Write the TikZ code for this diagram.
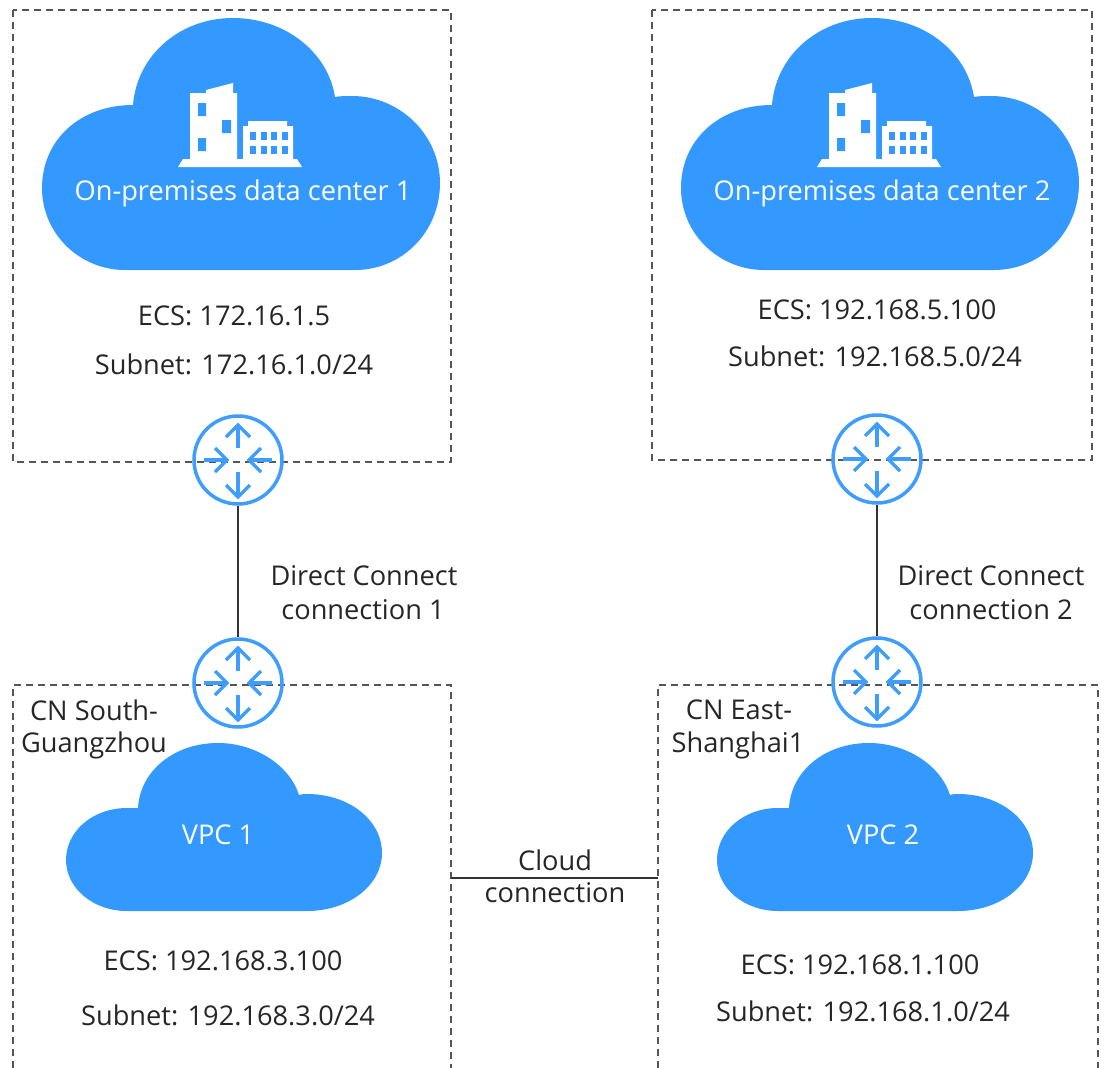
\documentclass[tikz,border=0pt]{standalone}
\usepackage{fontspec}
\setmainfont{Open Sans}
\definecolor{cloudblue}{HTML}{3399FF}
\definecolor{lineblue}{HTML}{3F9DFF}
\definecolor{dashgray}{HTML}{555555}
\newcommand{\lbl}{\fontsize{27.2}{30}\selectfont}
\tikzset{
	boxline/.style={draw=dashgray,line width=1.1pt,dash pattern=on 7pt off 5pt},
	link/.style={draw=black!80,line width=1.5pt},
	router/.style={shape=circle,draw=lineblue,line width=3.5pt,minimum size=88pt,inner sep=0pt},
	rarrow/.style={draw=lineblue,line width=3.5pt},
	txt/.style={text=black!85,font=\lbl,inner sep=0pt},
	wtxt/.style={text=white,font=\lbl,inner sep=0pt},
	bigcloud/.pic={
		\fill[cloudblue] (125,270) -- (355,270) .. controls (402,270) and (440,232) .. (440,183)
			.. controls (440,135) and (400,96) .. (352,96) .. controls (346,96) and (340,96) .. (335,97)
			.. controls (328,52) and (285,18) .. (233,18) .. controls (180,18) and (137,55) .. (133,105)
			.. controls (80,105) and (42,140) .. (42,188) .. controls (42,234) and (80,270) .. (125,270) -- cycle;
		% building
		\fill[white] (178,167) -- (183,159) -- (190,159) -- (190,93) -- (206,93) -- (206,90) -- (233,83) -- (233,93) -- (237,93)
			-- (237,159) -- (243,159) -- (243,126) -- (248,126) -- (248,121) -- (287,121) -- (287,126) -- (293,126)
			-- (293,159) -- (297,159) -- (302,167) -- cycle;
		\fill[cloudblue] (198,103) rectangle (206,116) (222,120) rectangle (231,133) (198,138) rectangle (206,151);
		\foreach \x in {250,261,271,282}
			\foreach \y in {132,146}
				\fill[cloudblue] (\x,\y) rectangle ++(6,8);
	},
	smallcloud/.pic={
		\fill[cloudblue] (127,911) -- (307,911) .. controls (349,911) and (382,885) .. (382,853)
			.. controls (382,820) and (349,794) .. (307,794) .. controls (304,794) and (302,794) .. (299,795)
			.. controls (290,766) and (256,743) .. (218,743) .. controls (174,743) and (140,771) .. (138,808)
			.. controls (133,808) and (130,808) .. (127,808) .. controls (93,808) and (66,831) .. (66,860)
			.. controls (66,888) and (93,911) .. (127,911) -- cycle;
	},
	routerarrows/.pic={
		\draw[rarrow] (0,-12) -- (0,-34);
		\draw[rarrow] (-12,-23) -- (0,-35) -- (12,-23);
		\draw[rarrow] (0,12) -- (0,36);
		\draw[rarrow] (-12,25) -- (0,37) -- (12,25);
		\draw[rarrow] (-34,0) -- (-11,0);
		\draw[rarrow] (-23,-12) -- (-11,0) -- (-23,12);
		\draw[rarrow] (34,0) -- (11,0);
		\draw[rarrow] (23,-12) -- (11,0) -- (23,12);
	}
}
\begin{document}
\begin{tikzpicture}[x=1pt,y=-1pt]
	\useasboundingbox (0,0) rectangle (1104,1068);

	% dashed areas
	\draw[boxline] (13,10) rectangle (451,462);
	\draw[boxline] (652,10) rectangle (1092,460);
	\draw[boxline] (13,1068) -- (13,685) -- (451,685) -- (451,1068);
	\draw[boxline] (658,1068) -- (658,685) -- (1098,685) -- (1098,1068);

	% clouds
	\pic at (0,0) {bigcloud};
	\pic at (639,0) {bigcloud};
	\pic at (0,0) {smallcloud};
	\pic at (651,0) {smallcloud};

	% routers
	\node[router] (dc1) at (238,460) {};
	\node[router] (dc2) at (877,459) {};
	\node[router] (vpc1) at (238,683) {};
	\node[router] (vpc2) at (877,682) {};
	\foreach \n in {dc1,dc2,vpc1,vpc2}
		\pic at (\n) {routerarrows};

	% connectors
	\coordinate (cc1) at (451,878);
	\coordinate (cc2) at (658,878);
	\path[link] (dc1) edge (vpc1);
	\path[link] (dc2) edge (vpc2);
	\path[link] (cc1) edge (cc2);

	% labels
	\node[wtxt] (dc1name) at (243,193) {On-premises data center 1};
	\node[wtxt] (dc2name) at (882,193) {On-premises data center 2};
	\node[wtxt] (vpc1name) at (218,835) {VPC 1};
	\node[wtxt] (vpc2name) at (883,835) {VPC 2};
	\node[txt] (ecs1) at (234,316) {ECS: 172.16.1.5};
	\node[txt] (sub1) at (234,364) {Subnet: 172.16.1.0/24};
	\node[txt] (ecs2) at (877,310) {ECS: 192.168.5.100};
	\node[txt] (sub2) at (875,356) {Subnet: 192.168.5.0/24};
	\node[txt] (ecs3) at (223,961) {ECS: 192.168.3.100};
	\node[txt] (sub3) at (228,1015) {Subnet: 192.168.3.0/24};
	\node[txt] (ecs4) at (860,965) {ECS: 192.168.1.100};
	\node[txt] (sub4) at (863,1011) {Subnet: 192.168.1.0/24};
	\node[txt] (dcc1a) at (364,576) {Direct Connect};
	\node[txt] (dcc1b) at (363,610) {connection 1};
	\node[txt] (dcc2a) at (991,576) {Direct Connect};
	\node[txt] (dcc2b) at (991,610) {connection 2};
	\node[txt] (cloudc1) at (555,860) {Cloud};
	\node[txt] (cloudc2) at (555,893) {connection};
	\node[txt] (reg1a) at (94,710) {CN South-};
	\node[txt] (reg1b) at (94,745) {Guangzhou};
	\node[txt] (reg2a) at (739,710) {CN East-};
	\node[txt] (reg2b) at (738,745) {Shanghai1};
\end{tikzpicture}
\end{document}
